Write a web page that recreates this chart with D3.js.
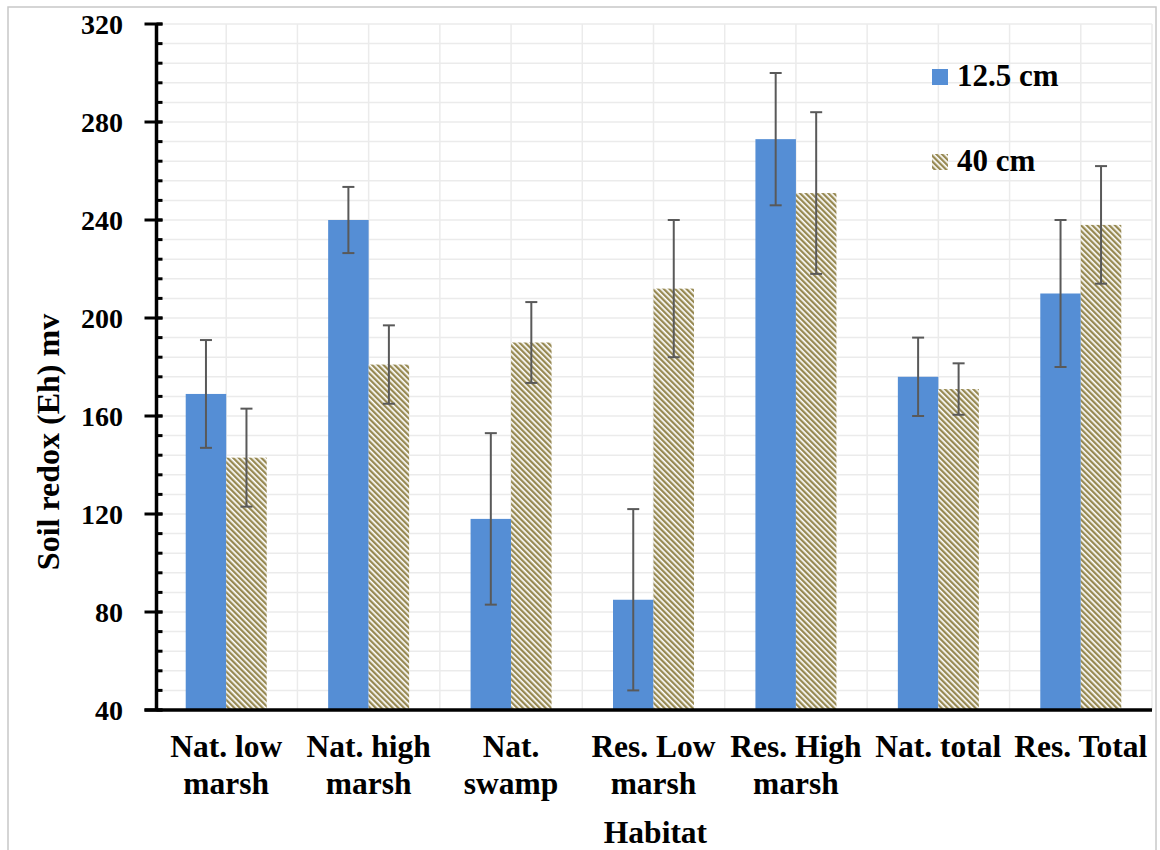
<!DOCTYPE html>
<html>
<head>
<meta charset="utf-8">
<script src="https://cdn.jsdelivr.net/npm/d3@7"></script>
<style>
  body { margin: 0; background: #fff; }
  text { font-family: "Liberation Serif", "Times New Roman", serif; font-weight: bold; fill: #000; }
</style>
</head>
<body>
<script>
// habitat categories (two-line labels)
const habitats = ['Nat. low marsh', 'Nat. high marsh', 'Nat. swamp', 'Res. Low marsh', 'Res. High marsh', 'Nat. total', 'Res. Total'];
const habitatLines = [['Nat. low', 'marsh'], ['Nat. high', 'marsh'], ['Nat.', 'swamp'], ['Res. Low', 'marsh'], ['Res. High', 'marsh'], ['Nat. total'], ['Res. Total']];
const depths = ['12.5 cm', '40 cm'];

// mean Eh and error (+/-)
const eh12 = [169, 240, 118, 85, 273, 176, 210];
const err12 = [22, 13.5, 35, 37, 27, 16, 30];
const eh40 = [143, 181, 190, 212, 251, 171, 238];
const err40 = [20, 16, 16.5, 28, 33, 10.5, 24];

const yTicks = [40, 80, 120, 160, 200, 240, 280, 320];

const width = 1160, height = 850;
const plotLeft = 155, plotRight = 1152, plotTop = 24, plotBottom = 710;
const axisX = 156.5;

const svg = d3.select('body').append('svg')
  .attr('width', width)
  .attr('height', height);

// hatch pattern for the 40 cm bars
const defs = svg.append('defs');
const pat = defs.append('pattern')
  .attr('id', 'hatch')
  .attr('patternUnits', 'userSpaceOnUse')
  .attr('width', 4)
  .attr('height', 4)
  .attr('patternTransform', 'rotate(-45)');
pat.append('rect').attr('width', 4).attr('height', 4).attr('fill', '#fff');
pat.append('rect').attr('width', 2.3).attr('height', 4).attr('fill', '#978952');

// outer chart border
svg.append('rect')
  .attr('x', 8).attr('y', 7)
  .attr('width', 1148).attr('height', 860)
  .attr('fill', 'none')
  .attr('stroke', '#c8c8c8')
  .attr('stroke-width', 1.5);

const x = d3.scaleBand().domain(habitats).range([plotLeft, plotRight]);
const y = d3.scaleLinear().domain([40, 320]).range([plotBottom, plotTop]);

// gridlines: horizontal at every minor step, vertical at each half category
const minor = d3.range(40, 321, 8);
svg.append('g').selectAll('line')
  .data(minor)
  .join('line')
  .attr('x1', plotLeft).attr('x2', plotRight)
  .attr('y1', d => y(d)).attr('y2', d => y(d))
  .attr('stroke', '#ebebeb')
  .attr('stroke-width', 1.5);

const vgrid = [];
habitats.forEach(h => {
  vgrid.push(x(h) + x.bandwidth() / 2);
  vgrid.push(x(h) + x.bandwidth());
});
svg.append('g').selectAll('line')
  .data(vgrid)
  .join('line')
  .attr('x1', d => d).attr('x2', d => d)
  .attr('y1', plotTop).attr('y2', plotBottom)
  .attr('stroke', '#ebebeb')
  .attr('stroke-width', 1.5);

// bars
const barW = 40.5;
const g12 = svg.append('g');
g12.selectAll('rect')
  .data(habitats)
  .join('rect')
  .attr('x', d => x(d) + x.bandwidth() / 2 - barW)
  .attr('width', barW)
  .attr('y', (d, i) => y(eh12[i]))
  .attr('height', (d, i) => y(40) - y(eh12[i]))
  .attr('fill', '#558ed5');

const g40 = svg.append('g');
g40.selectAll('rect')
  .data(habitats)
  .join('rect')
  .attr('x', d => x(d) + x.bandwidth() / 2)
  .attr('width', barW)
  .attr('y', (d, i) => y(eh40[i]))
  .attr('height', (d, i) => y(40) - y(eh40[i]))
  .attr('fill', 'url(#hatch)');

// error bars
function errorBars(vals, errs, offset) {
  const g = svg.append('g')
    .attr('stroke', '#595959')
    .attr('stroke-width', 2);
  habitats.forEach((h, i) => {
    const cx = x(h) + x.bandwidth() / 2 + offset;
    const hi = y(vals[i] + errs[i]);
    const lo = y(vals[i] - errs[i]);
    g.append('line').attr('x1', cx).attr('x2', cx).attr('y1', hi).attr('y2', lo);
    g.append('line').attr('x1', cx - 6).attr('x2', cx + 6).attr('y1', hi).attr('y2', hi);
    g.append('line').attr('x1', cx - 6).attr('x2', cx + 6).attr('y1', lo).attr('y2', lo);
  });
}
errorBars(eh12, err12, -barW / 2);
errorBars(eh40, err40, barW / 2);

// y axis
const yAxis = svg.append('g');
yAxis.selectAll('line.minor')
  .data(minor)
  .join('line')
  .attr('class', 'minor')
  .attr('x1', axisX).attr('x2', axisX + 6)
  .attr('y1', d => y(d)).attr('y2', d => y(d))
  .attr('stroke', '#000')
  .attr('stroke-width', 3);
yAxis.selectAll('line.major')
  .data(yTicks)
  .join('line')
  .attr('class', 'major')
  .attr('x1', axisX - 12).attr('x2', axisX + 6)
  .attr('y1', d => y(d)).attr('y2', d => y(d))
  .attr('stroke', '#000')
  .attr('stroke-width', 3);
yAxis.append('line')
  .attr('x1', axisX).attr('x2', axisX)
  .attr('y1', plotTop).attr('y2', plotBottom)
  .attr('stroke', '#000')
  .attr('stroke-width', 3.5);
yAxis.selectAll('text')
  .data(yTicks)
  .join('text')
  .attr('x', 123)
  .attr('y', d => y(d))
  .attr('dy', '0.36em')
  .attr('text-anchor', 'end')
  .style('font-size', '28px')
  .text(d => d);

// x axis line
svg.append('line')
  .attr('x1', axisX - 12).attr('x2', plotRight)
  .attr('y1', plotBottom).attr('y2', plotBottom)
  .attr('stroke', '#000')
  .attr('stroke-width', 3.5);

// category labels
habitats.forEach((h, i) => {
  const t = svg.append('text')
    .attr('x', x(h) + x.bandwidth() / 2)
    .attr('y', 757)
    .attr('text-anchor', 'middle')
    .style('font-size', '31.5px');
  habitatLines[i].forEach((line, j) => {
    t.append('tspan')
      .attr('x', x(h) + x.bandwidth() / 2)
      .attr('dy', j === 0 ? 0 : 37)
      .text(line);
  });
});

// axis titles
svg.append('text')
  .attr('x', (plotLeft + plotRight) / 2 + 2)
  .attr('y', 843)
  .attr('text-anchor', 'middle')
  .style('font-size', '31.5px')
  .text('Habitat');

svg.append('text')
  .attr('transform', 'translate(59,442) rotate(-90)')
  .attr('text-anchor', 'middle')
  .style('font-size', '32px')
  .text('Soil redox (Eh) mv');

// legend
const legend = svg.append('g');
const legendY = [69, 154];
const legendFill = ['#558ed5', 'url(#hatch)'];
depths.forEach((d, i) => {
  legend.append('rect')
    .attr('x', 932).attr('y', legendY[i])
    .attr('width', 16).attr('height', 16)
    .attr('fill', legendFill[i]);
  legend.append('text')
    .attr('x', 957)
    .attr('y', legendY[i] + 17)
    .style('font-size', '31px')
    .text(d);
});
</script>
</body>
</html>
